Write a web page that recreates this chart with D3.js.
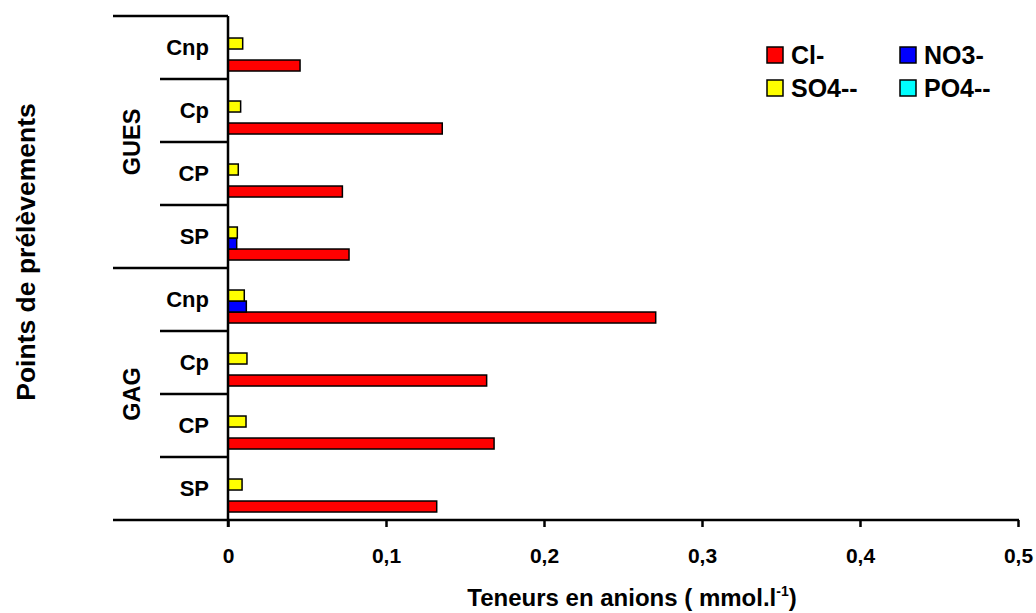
<!DOCTYPE html>
<html><head><meta charset="utf-8">
<script src="https://cdn.jsdelivr.net/npm/d3@7"></script>
<style>
body{margin:0;background:#fff;}
svg{display:block;font-family:Arial,"Liberation Sans",sans-serif;font-weight:bold;}
</style></head>
<body><svg id="c" width="1036" height="613"></svg>
<script>
const groups = ["GUES","GUES","GUES","GUES","GAG","GAG","GAG","GAG"];
const categories = ["Cnp","Cp","CP","SP","Cnp","Cp","CP","SP"];
const seriesNames = ["Cl-","NO3-","SO4--","PO4--"];
const seriesColors = ["#ff0000","#0000ff","#ffff00","#00ffff"];
const clValues  = [0.0456,0.1356,0.0724,0.0766,0.2707,0.1637,0.1684,0.1321];
const no3Values = [0,0,0,0.0055,0.0116,0,0,0];
const so4Values = [0.0093,0.0080,0.0065,0.0059,0.0103,0.0120,0.0114,0.0089];
const po4Values = [0,0,0,0,0,0,0,0];
const tickValues = [0,0.1,0.2,0.3,0.4,0.5];
const tickLabels = ["0","0,1","0,2","0,3","0,4","0,5"];
const groupNames = ["GUES","GAG"];

const allSeries = [clValues,no3Values,so4Values,po4Values];
const svg = d3.select("#c");
const x0 = 228, x1 = 1018, yTop = 16, yBot = 520;
const x = d3.scaleLinear().domain([0,0.5]).range([x0,x1]);
const idx = d3.range(categories.length);
const y = d3.scaleBand().domain(idx).range([yTop,yBot]).paddingInner(0).paddingOuter(0);
const inner = d3.scaleBand().domain([3,2,1,0]).range([0,y.bandwidth()]).paddingInner(0).paddingOuter(0.864).align(0.58);

// bars
idx.forEach(i=>{
  allSeries.forEach((vals,s)=>{
    const v = vals[i];
    if(v<=0) return;
    svg.append("rect")
      .attr("x", x(0))
      .attr("y", y(i)+inner(s))
      .attr("width", x(v)-x(0))
      .attr("height", inner.bandwidth())
      .attr("fill", seriesColors[s])
      .attr("stroke","#000").attr("stroke-width",1.5);
  });
});

// x axis
const xAxis = d3.axisBottom(x).tickValues(tickValues)
  .tickFormat((d,i)=>tickLabels[i]).tickSize(7).tickSizeOuter(0);
const gx = svg.append("g").attr("transform",`translate(0,${yBot})`).call(xAxis);
gx.select(".domain").remove();
gx.selectAll(".tick line").attr("stroke","#000").attr("stroke-width",2.5);
gx.selectAll(".tick text").attr("y",28).attr("dy","0.71em").attr("font-size",21).attr("font-weight","bold").attr("font-family","Arial,'Liberation Sans',sans-serif").attr("fill","#000");
svg.append("line").attr("x1",113).attr("x2",x1+1).attr("y1",yBot).attr("y2",yBot).attr("stroke","#000").attr("stroke-width",2.5);

// y axis line
svg.append("line").attr("x1",x0).attr("x2",x0).attr("y1",yTop).attr("y2",yBot+7).attr("stroke","#000").attr("stroke-width",2.5);
// top line
svg.append("line").attr("x1",113).attr("x2",x0).attr("y1",yTop).attr("y2",yTop).attr("stroke","#000").attr("stroke-width",2.5);
// separators
idx.slice(1).forEach(i=>{
  const longSep = groups[i]!==groups[i-1];
  svg.append("line").attr("x1",longSep?113:160).attr("x2",x0)
    .attr("y1",y(i)).attr("y2",y(i)).attr("stroke","#000").attr("stroke-width",2.5);
});
// category labels
idx.forEach(i=>{
  svg.append("text").attr("x",209).attr("y",y(i)+y.bandwidth()/2).attr("dy","0.36em")
    .attr("text-anchor","end").attr("font-size",22).text(categories[i]);
});
// group labels
groupNames.forEach(g=>{
  const ids = idx.filter(i=>groups[i]===g);
  const cy = (y(ids[0]) + y(ids[ids.length-1])+y.bandwidth())/2;
  svg.append("text").attr("transform",`translate(132,${cy}) rotate(-90)`)
    .attr("dy","0.36em").attr("text-anchor","middle").attr("font-size",23.5).text(g);
});
// axis titles
svg.append("text").attr("transform",`translate(25,252) rotate(-90)`)
  .attr("dy","0.36em").attr("text-anchor","middle").attr("font-size",26.5).text("Points de prélèvements");
const xt = svg.append("text").attr("x",632).attr("y",606).attr("text-anchor","middle").attr("font-size",24);
xt.append("tspan").text("Teneurs en anions ( mmol.l");
xt.append("tspan").attr("font-size",14).attr("dy",-10).text("-1");
xt.append("tspan").attr("dy",10).text(")");

// legend
const legPos = [[767,47],[900,47],[767,80],[900,80]];
seriesNames.forEach((n,s)=>{
  const [lx,ly] = legPos[s];
  svg.append("rect").attr("x",lx).attr("y",ly).attr("width",16).attr("height",16)
    .attr("fill",seriesColors[s]).attr("stroke","#000").attr("stroke-width",1.5);
  svg.append("text").attr("x",lx+24).attr("y",ly+16.5).attr("font-size",25).text(n);
});
</script></body></html>
